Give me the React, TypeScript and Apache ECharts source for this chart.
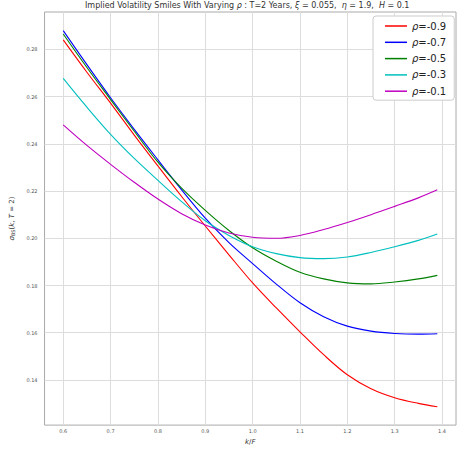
import React, { useEffect, useRef } from "react";
import * as echarts from "echarts";

const kValues = [0.6, 0.65, 0.7, 0.75, 0.8, 0.85, 0.9, 0.95, 1.0, 1.05, 1.1, 1.15, 1.2, 1.25, 1.3, 1.35, 1.39];

const rhoM09 = [0.2840, 0.2703, 0.2572, 0.2437, 0.2306, 0.2177, 0.2052, 0.1930, 0.1811, 0.1705, 0.1604, 0.1507, 0.1422, 0.1363, 0.1325, 0.1301, 0.1287];
const rhoM07 = [0.2879, 0.2735, 0.2595, 0.2461, 0.2332, 0.2205, 0.2085, 0.1982, 0.1893, 0.1806, 0.1727, 0.1668, 0.1628, 0.1607, 0.1597, 0.1594, 0.1596];
const rhoM05 = [0.2865, 0.2723, 0.2587, 0.2453, 0.2322, 0.2212, 0.2118, 0.2033, 0.1960, 0.1903, 0.1856, 0.1828, 0.1811, 0.1807, 0.1815, 0.1828, 0.1843];
const rhoM03 = [0.2677, 0.2555, 0.2440, 0.2338, 0.2245, 0.2155, 0.2074, 0.2012, 0.1964, 0.1935, 0.1918, 0.1914, 0.1921, 0.1940, 0.1964, 0.1991, 0.2018];
const rhoM01 = [0.2480, 0.2393, 0.2313, 0.2237, 0.2166, 0.2104, 0.2056, 0.2022, 0.2004, 0.2000, 0.2012, 0.2037, 0.2067, 0.2100, 0.2135, 0.2171, 0.2205];

const seriesNames = ["ρ=-0.9", "ρ=-0.7", "ρ=-0.5", "ρ=-0.3", "ρ=-0.1"];
const seriesColors = ["#ff0000", "#0000ff", "#008000", "#00bfbf", "#bf00bf"];
const seriesValues = [rhoM09, rhoM07, rhoM05, rhoM03, rhoM01];

const xTicks = [0.6, 0.7, 0.8, 0.9, 1.0, 1.1, 1.2, 1.3, 1.4];
const yTicks = [0.14, 0.16, 0.18, 0.2, 0.22, 0.24, 0.26, 0.28];

const FONT = "DejaVu Sans";

export default function App() {
  const ref = useRef<HTMLDivElement>(null);
  useEffect(() => {
    if (!ref.current) return;
    const chart = echarts.init(ref.current, null, { renderer: "svg" });
    const series = seriesNames.map((name, i) => ({
      name,
      type: "line",
      data: kValues.map((k, j) => [k, seriesValues[i][j]]),
      showSymbol: false,
      symbol: "none",
      smooth: 0.35,
      lineStyle: { color: seriesColors[i], width: 1.1 },
      itemStyle: { color: seriesColors[i] },
    }));
    chart.setOption({
      animation: false,
      backgroundColor: "#ffffff",
      title: {
        text: "{n|Implied Volatility Smiles With Varying }{i|ρ}{n| : T=2 Years, }{i|ξ}{n| = 0.055,  }{i|η}{n| = 1.9,  }{i|H}{n| = 0.1}",
        left: 85,
        top: 1,
        padding: 0,
        textStyle: {
          fontWeight: "normal",
          rich: {
            n: { fontFamily: FONT, fontSize: 8, fontWeight: "normal", color: "#333" },
            i: { fontFamily: FONT, fontSize: 8, fontWeight: "normal", fontStyle: "italic", color: "#333" },
          },
        },
      },
      legend: {
        data: seriesNames,
        orient: "vertical",
        left: 373,
        top: 16,
        padding: [4, 8, 3, 12],
        itemWidth: 22,
        itemHeight: 1.5,
        itemGap: 4.3,
        icon: "rect",
        backgroundColor: "#ffffff",
        borderColor: "#cccccc",
        borderWidth: 1,
        borderRadius: 3,
        formatter: (name: string) => "{i|ρ}{n|" + name.slice(1) + "}",
        textStyle: {
          lineHeight: 12,
          rich: {
            n: { fontFamily: FONT, fontSize: 10, color: "#222", lineHeight: 12 },
            i: { fontFamily: FONT, fontSize: 10, fontStyle: "italic", color: "#222", lineHeight: 12 },
          },
        },
      },
      grid: {
        left: 34,
        right: 1,
        top: 12,
        bottom: 24,
        show: true,
        borderColor: "#aaaaaa",
        borderWidth: 1,
        containLabel: false,
      },
      xAxis: {
        type: "value",
        min: 0.5605,
        max: 1.4295,
        name: "{i|k}{n|/}{i|F}",
        nameLocation: "middle",
        nameGap: 9,
        nameTextStyle: {
          rich: {
            n: { fontFamily: FONT, fontSize: 7, color: "#333" },
            i: { fontFamily: FONT, fontSize: 7, fontStyle: "italic", color: "#333" },
          },
        },
        axisLine: { show: false },
        axisTick: { show: false, customValues: xTicks },
        axisLabel: {
          customValues: xTicks,
          formatter: (v: number) => v.toFixed(1),
          fontFamily: FONT,
          fontSize: 5,
          color: "#555",
          margin: 3,
        },
        splitLine: { show: true, lineStyle: { color: "#dddddd", width: 1 } },
      },
      yAxis: {
        type: "value",
        min: 0.1209,
        max: 0.2958,
        name: "{i|σ}{s|BS}{n|(}{i|k}{n|, }{i|T}{n| = 2)}",
        nameLocation: "middle",
        nameGap: 19,
        nameRotate: 90,
        nameTextStyle: {
          rich: {
            n: { fontFamily: FONT, fontSize: 7, color: "#333" },
            i: { fontFamily: FONT, fontSize: 7, fontStyle: "italic", color: "#333" },
            s: { fontFamily: FONT, fontSize: 5, color: "#333", verticalAlign: "bottom", padding: [3, 0, 0, 0] },
          },
        },
        axisLine: { show: false },
        axisTick: { show: false, customValues: yTicks },
        axisLabel: {
          customValues: yTicks,
          formatter: (v: number) => v.toFixed(2),
          fontFamily: FONT,
          fontSize: 5,
          color: "#555",
          margin: 7,
        },
        splitLine: { show: true, lineStyle: { color: "#dddddd", width: 1 } },
      },
      series,
    });
    return () => chart.dispose();
  }, []);
  return (
    <div
      ref={ref}
      style={{ position: "fixed", left: 0, top: 0, width: 457, height: 450 }}
    />
  );
}
